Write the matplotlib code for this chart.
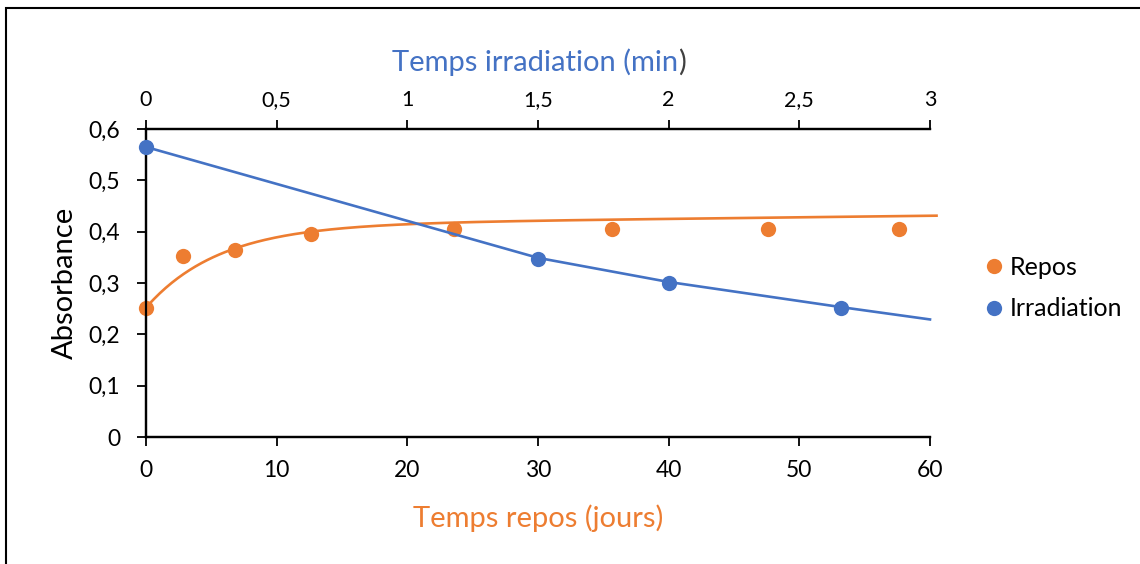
import matplotlib
matplotlib.use("Agg")
import matplotlib.pyplot as plt
from matplotlib.patches import Rectangle
from matplotlib.ticker import FuncFormatter
from matplotlib.lines import Line2D
import numpy as np

plt.rcParams['font.family'] = ['Lato', 'DejaVu Sans']

# Data
repos_days = [0, 2.8, 6.8, 12.6, 23.6, 35.7, 47.6, 57.6]
repos_abs = [0.252, 0.352, 0.365, 0.396, 0.405, 0.405, 0.405, 0.405]

irr_min = [0, 1.5, 2.0, 2.66]
irr_abs = [0.564, 0.347, 0.300, 0.251]

# blue line (trend through the irradiation points, extended to 3 min)
irr_line_min = [0, 1.5, 2.0, 2.66, 3.0]
irr_line_abs = [0.565, 0.349, 0.302, 0.253, 0.229]

# orange trendline parameters: y = A + B*t - C*exp(-t/tau)
trend_A, trend_B, trend_C, trend_tau = 0.413, 0.0003, 0.161, 5.6
trend_t_end = 60.5

y_ticks = [0, 0.1, 0.2, 0.3, 0.4, 0.5, 0.6]
bottom_ticks = [0, 10, 20, 30, 40, 50, 60]
top_ticks = [0, 0.5, 1, 1.5, 2, 2.5, 3]

ORANGE = '#ED7D31'
BLUE = '#4472C4'

W, H = 1140, 564
fig = plt.figure(figsize=(W / 100, H / 100), dpi=100)
ax = fig.add_axes([146 / W, 1 - 437 / H, (930 - 146) / W, (437 - 129) / H])
ax2 = ax.twiny()

def comma(v, pos=None):
    return ('%g' % v).replace('.', ',')

ax.set_xlim(0, 60)
ax.set_ylim(0, 0.6)
ax2.set_xlim(0, 3)

t = np.linspace(0, trend_t_end, 400)
trend = trend_A + trend_B * t - trend_C * np.exp(-t / trend_tau)
ax.plot(t, trend, color=ORANGE, lw=1.9, clip_on=False, zorder=2)
ax.plot(repos_days, repos_abs, 'o', color=ORANGE, ms=11, mec='none', zorder=3, clip_on=False)

ax2.plot(irr_line_min, irr_line_abs, color=BLUE, lw=1.9, zorder=2, clip_on=False)
ax2.plot(irr_min, irr_abs, 'o', color=BLUE, ms=11, mec='none', zorder=3, clip_on=False)

for a in (ax, ax2):
    a.spines['right'].set_visible(False)
    for s in a.spines.values():
        s.set_linewidth(1.6)
        s.set_color('black')

ax.set_yticks(y_ticks)
ax.set_xticks(bottom_ticks)
ax2.set_xticks(top_ticks)
ax.yaxis.set_major_formatter(FuncFormatter(comma))
ax.xaxis.set_major_formatter(FuncFormatter(comma))
ax2.xaxis.set_major_formatter(FuncFormatter(comma))
ax.tick_params(axis='both', direction='out', length=6.5, width=1.3, labelsize=16.5)
ax.tick_params(axis='y', pad=12)
ax.tick_params(axis='x', pad=10)
ax2.tick_params(axis='x', direction='out', length=6.5, width=1.3, labelsize=15.5, pad=7)

ax.set_ylabel('Absorbance', fontsize=21, labelpad=8)

title_top = fig.text(0.5, 1 - 62 / H, 'Temps irradiation (min', color=BLUE, fontsize=21,
                     ha='left', va='center')
paren = fig.text(0.5, 1 - 62 / H, ')', color='#404040', fontsize=21, ha='left', va='center')
fig.canvas.draw()
bb1 = title_top.get_window_extent()
bb2 = paren.get_window_extent()
total = bb1.width + bb2.width
x0 = 539 - total / 2
title_top.set_x(x0 / W)
paren.set_x((x0 + bb1.width) / W)

fig.text(538 / W, 1 - 518 / H, 'Temps repos (jours)', color=ORANGE, fontsize=21,
         ha='center', va='center')

# legend
handles = [Line2D([], [], ls='none', marker='o', color=ORANGE, ms=11, mec='none'),
           Line2D([], [], ls='none', marker='o', color=BLUE, ms=11, mec='none')]
fig.legend(handles, ['Repos', 'Irradiation'], loc='center left',
           bbox_to_anchor=(956 / W, 1 - 288 / H), frameon=False, fontsize=18,
           handletextpad=0.05, labelspacing=0.75, handlelength=1.2)

# figure border (top and left)
fig.add_artist(Rectangle((6 / W, -0.2), 2, 1.2 - 8 / H, transform=fig.transFigure,
                         fill=False, lw=1.5, edgecolor='black'))

fig.savefig('out.png', dpi=100)
